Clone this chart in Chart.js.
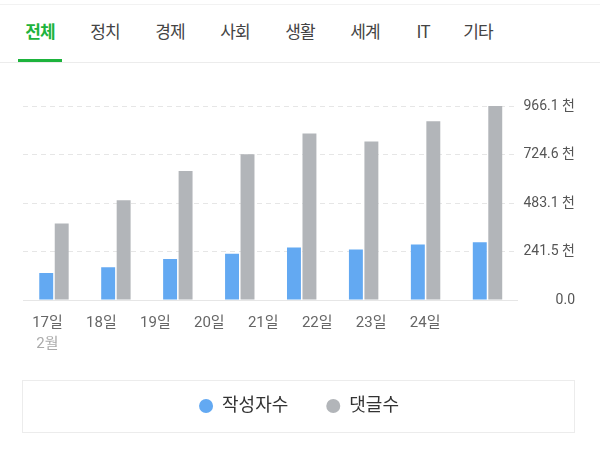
<!DOCTYPE html>
<html lang="ko">
<head>
<meta charset="utf-8">
<script src="https://cdn.jsdelivr.net/npm/chart.js@4.4.1/dist/chart.umd.min.js"></script>
<style>
  body { margin: 0; width: 600px; height: 460px; background: #fff; position: relative; overflow: hidden;
         font-family: "Noto Sans CJK KR", Roboto, sans-serif; }
  .tabs { position: absolute; left: 0; top: 4px; width: 600px; height: 57px;
          border-top: 1px solid #f2f2f2; border-bottom: 1px solid #ececec; }
  .tab { position: absolute; top: 0; line-height: 52px; font-size: 17px; color: #444;
         letter-spacing: -1px; transform: translateX(-50%); white-space: nowrap; }
  .tab.on { color: #1db33c; font-weight: 700; }
  .bar-on { position: absolute; left: 18px; top: 54px; width: 44px; height: 3px; background: #1db33c; }
  .legend-box { position: absolute; left: 22px; top: 380px; width: 551px; height: 51px;
                border: 1.5px solid #ececec; }
  #chart { position: absolute; left: 0; top: 70px; }
</style>
</head>
<body>
<div class="tabs">
  <span class="tab on" style="left:40px">전체</span>
  <span class="tab" style="left:105px">정치</span>
  <span class="tab" style="left:170px">경제</span>
  <span class="tab" style="left:235px">사회</span>
  <span class="tab" style="left:300px">생활</span>
  <span class="tab" style="left:365px">세계</span>
  <span class="tab" style="left:423px">IT</span>
  <span class="tab" style="left:478px">기타</span>
  <div class="bar-on"></div>
</div>
<div class="legend-box"></div>
<canvas id="chart" width="600" height="355"></canvas>
<script>
// data
const days = ['17일', '18일', '19일', '20일', '21일', '22일', '23일', '24일'];
const monthLabel = ['2월'];
const writers = [134000, 163000, 204000, 230000, 262000, 252000, 277000, 288000];
const comments = [381000, 497000, 643000, 726000, 829000, 789000, 890000, 966100];
const yTickValues = [0, 241525, 483050, 724575, 966100];
const yTickLabels = ['0.0', '241.5 천', '483.1 천', '724.6 천', '966.1 천'];

const FONT = 'Roboto, "Noto Sans CJK KR", sans-serif';
const dayIdx = days.map((d, i) => i);

// the day labels in the picture are spaced tighter than the bar groups,
// so they get their own linear scale
const labelScale = {
  type: 'linear',
  position: 'bottom',
  offset: false,
  min: -0.4537,
  max: 8.731,
  grid: { display: false, drawTicks: false, offset: false },
  border: { display: false }
};

new Chart(document.getElementById('chart'), {
  type: 'bar',
  data: {
    labels: days,
    datasets: [
      { label: '작성자수', data: writers, backgroundColor: '#63a9f2', borderWidth: 0 },
      { label: '댓글수', data: comments, backgroundColor: '#b2b5b9', borderWidth: 0 }
    ]
  },
  options: {
    responsive: false,
    animation: false,
    layout: { padding: { left: 23, right: 25, top: 36, bottom: 0 } },
    datasets: { bar: { categoryPercentage: 0.5, barPercentage: 0.9 } },
    plugins: {
      tooltip: { enabled: false },
      legend: {
        position: 'bottom',
        labels: {
          usePointStyle: true,
          pointStyle: 'circle',
          boxWidth: 10,
          boxHeight: 10,
          pointStyleWidth: 14,
          padding: 38,
          color: '#333',
          font: { family: FONT, size: 18 }
        }
      }
    },
    scales: {
      x: {
        offset: true,
        grid: { display: false, drawTicks: false },
        border: { display: false },
        ticks: { display: false }
      },
      xDays: {
        ...labelScale,
        afterBuildTicks: s => { s.ticks = dayIdx.map(v => ({ value: v })); },
        afterFit: s => { s.height = 30; },
        ticks: {
          autoSkip: false, maxRotation: 0, padding: 14,
          color: '#666', font: { family: FONT, size: 15 },
          callback: v => days[v]
        }
      },
      xMonth: {
        ...labelScale,
        afterBuildTicks: s => { s.ticks = [{ value: 0 }]; },
        afterFit: s => { s.height = 29; },
        ticks: {
          autoSkip: false, maxRotation: 0, padding: 5,
          color: '#aaa', font: { family: FONT, size: 15 },
          callback: (v, i) => monthLabel[i]
        }
      },
      y: {
        position: 'right',
        min: 0,
        max: yTickValues[yTickValues.length - 1],
        afterBuildTicks: s => { s.ticks = yTickValues.map(v => ({ value: v })); },
        grid: { color: '#e6e6e6', drawTicks: false },
        border: { display: false, dash: ctx => ctx.tick && ctx.tick.value === 0 ? [] : [5, 4] },
        ticks: {
          crossAlign: 'far', padding: 2.5,
          color: '#555', font: { family: FONT, size: 14 },
          callback: (v, i) => yTickLabels[i]
        }
      }
    }
  }
});
</script>
</body>
</html>
